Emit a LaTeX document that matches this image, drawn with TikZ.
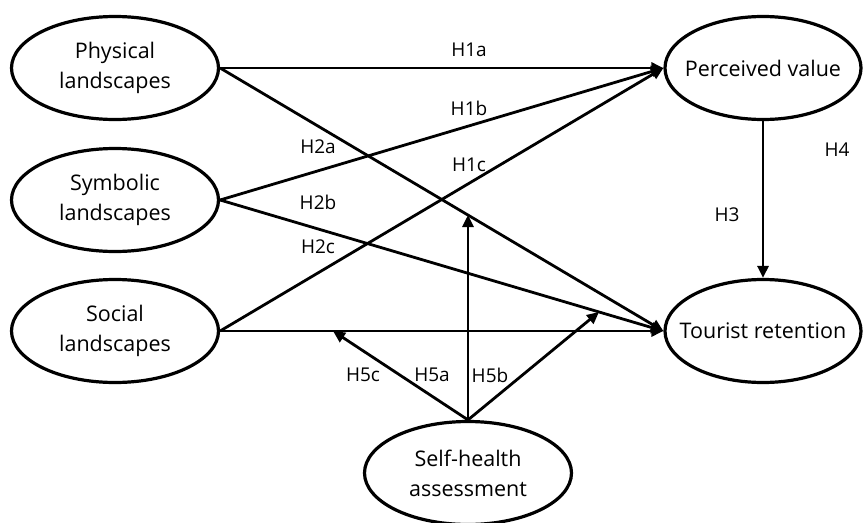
\documentclass[tikz,border=0pt]{standalone}
\usepackage{fontspec}
\setmainfont{Open Sans}
\usetikzlibrary{arrows.meta, shapes.geometric}

\begin{document}
\begin{tikzpicture}[x=1pt, y=-1pt,
    construct/.style={draw, ellipse, line width=3.2pt, minimum width=207pt, minimum height=103pt,
        inner sep=0pt, align=center, font=\fontsize{21.5}{30}\selectfont},
    link/.style={line width=2.8pt, -{Triangle[length=12pt, width=11pt]}},
    hyp/.style={font=\fontsize{19}{21}\selectfont}]
    \useasboundingbox (0,0) rectangle (864,522);
    % Constructs
    \node[construct] (phys) at (115,68) {Physical\\landscapes};
    \node[construct] (symb) at (115,200) {Symbolic\\landscapes};
    \node[construct] (soc) at (115,331) {Social\\landscapes};
    \node[construct, minimum width=196pt] (pv) at (763,68) {\makebox[0pt]{Perceived value}};
    \node[construct, minimum width=196pt] (tr) at (763,331) {\makebox[0pt]{Tourist retention}};
    \node[construct] (shealth) at (468,473) {Self-health\\assessment};
    % Landscapes to perceived value
    \draw[link] (phys.east) -- (pv.west);
    \draw[link] (symb.east) -- (pv.west);
    \draw[link] (soc.east) -- (pv.west);
    % Landscapes to tourist retention
    \draw[link] (phys.east) -- (tr.west);
    \draw[link] (symb.east) -- (tr.west);
    \draw[link] (soc.east) -- (tr.west);
    % Mediation
    \draw[link] (pv.south) -- (tr.north);
    % Moderation
    \coordinate (h5a) at (468,215);
    \coordinate (h5b) at (599,312);
    \coordinate (h5c) at (333,331);
    \draw[link] (shealth.north) -- (h5a);
    \draw[link] (shealth.north) -- (h5b);
    \draw[link] (shealth.north) -- (h5c);
    % Hypothesis labels
    \node[hyp] (l1a) at (469,50) {H1a};
    \node[hyp] (l1b) at (469,108) {H1b};
    \node[hyp] (l1c) at (469,165) {H1c};
    \node[hyp] (l2a) at (318,147) {H2a};
    \node[hyp] (l2b) at (318,202) {H2b};
    \node[hyp] (l2c) at (318,247) {H2c};
    \node[hyp] (l3) at (727,215) {H3};
    \node[hyp] (l4) at (837,150) {H4};
    \node[hyp] (l5c) at (363,375) {H5c};
    \node[hyp] (l5a) at (432,375) {H5a};
    \node[hyp] (l5b) at (490,375) {H5b};
\end{tikzpicture}
\end{document}
